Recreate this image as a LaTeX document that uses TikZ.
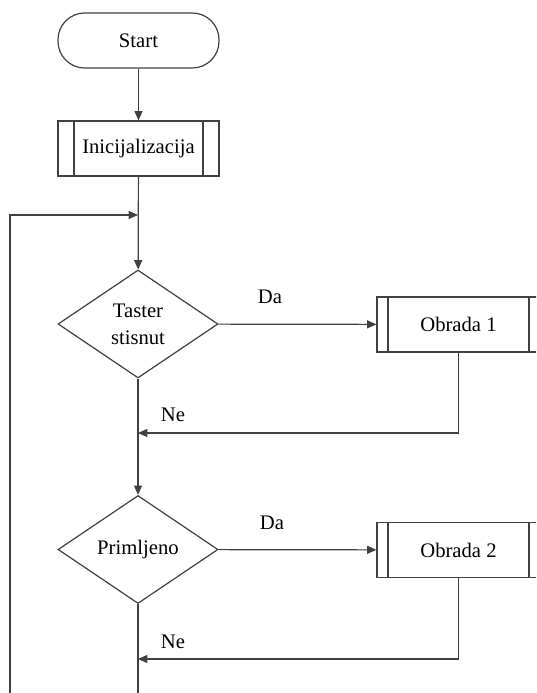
\documentclass[tikz,border=0pt]{standalone}
\usepackage{fontspec}
\setmainfont{Liberation Serif}
\usepackage{tikz}
\usetikzlibrary{arrows.meta,positioning,shapes.geometric}

\begin{document}
\begin{tikzpicture}[x=0.75pt,y=-0.75pt,
  every node/.style={font=\fontsize{15.5}{20}\selectfont},
  line width=0.9pt, draw=black!75,
  term/.style={draw,rounded corners=20pt,minimum width=120.75pt,minimum height=41.25pt},
  proc/.style={draw,minimum width=#1,minimum height=41.25pt,
    path picture={
      \draw ([xshift=8.25pt]path picture bounding box.north west) -- ([xshift=8.25pt]path picture bounding box.south west);
      \draw ([xshift=-8.25pt]path picture bounding box.north east) -- ([xshift=-8.25pt]path picture bounding box.south east);}},
  sub/.style={draw,minimum width=120.75pt,minimum height=41.25pt,
    path picture={
      \draw ([xshift=12pt]path picture bounding box.north west) -- ([xshift=12pt]path picture bounding box.south west);
      \draw ([xshift=-12pt]path picture bounding box.north east) -- ([xshift=-12pt]path picture bounding box.south east);}},
  dec/.style={draw,diamond,aspect=1.48,inner sep=0pt,minimum width=120pt,minimum height=81pt,align=center},
  e/.style={-{Triangle[length=7pt,width=6pt]}},
  lbl/.style={inner sep=1pt}]
 \useasboundingbox (0,0) rectangle (536,693);
 \clip (0,0) rectangle (536,693);
 \node[term] (st) at (138.5,40.5) {Start};
 \node[sub] (init) at (138.5,148.5) {Inicijalizacija};
 \node[dec] (d1) at (138,324) {Taster\\stisnut};
 \node[proc=122.25pt] (p1) at (458.5,324.5) {Obrada 1};
 \node[dec] (d2) at (138,549.5) {Primljeno};
 \node[proc=122.25pt] (p2) at (458.5,550) {Obrada 2};
 \coordinate (j0) at (138,215);
 \coordinate (l1) at (10,215);
 \coordinate (l0) at (10,693);
 \coordinate (r1) at (138,433);
 \coordinate (r2) at (138,659);
 \coordinate (b0) at (138,693);
 \draw[e] (st) -- (init);
 \draw[e] (init) -- (d1);
 \draw[e] (l0) -- (l1) -- (j0);
 \draw[e] (d1) -- (p1);
 \draw[e] (p1.south) |- (r1);
 \draw[e] (d1) -- (d2);
 \draw[e] (d2) -- (p2);
 \draw[e] (p2.south) |- (r2);
 \draw (d2) -- (b0);
 \node[lbl] (da1) at (270,297) {Da};
 \node[lbl] (ne1) at (173,415) {Ne};
 \node[lbl] (da2) at (272,523) {Da};
 \node[lbl] (ne2) at (173,642) {Ne};
\end{tikzpicture}
\end{document}
